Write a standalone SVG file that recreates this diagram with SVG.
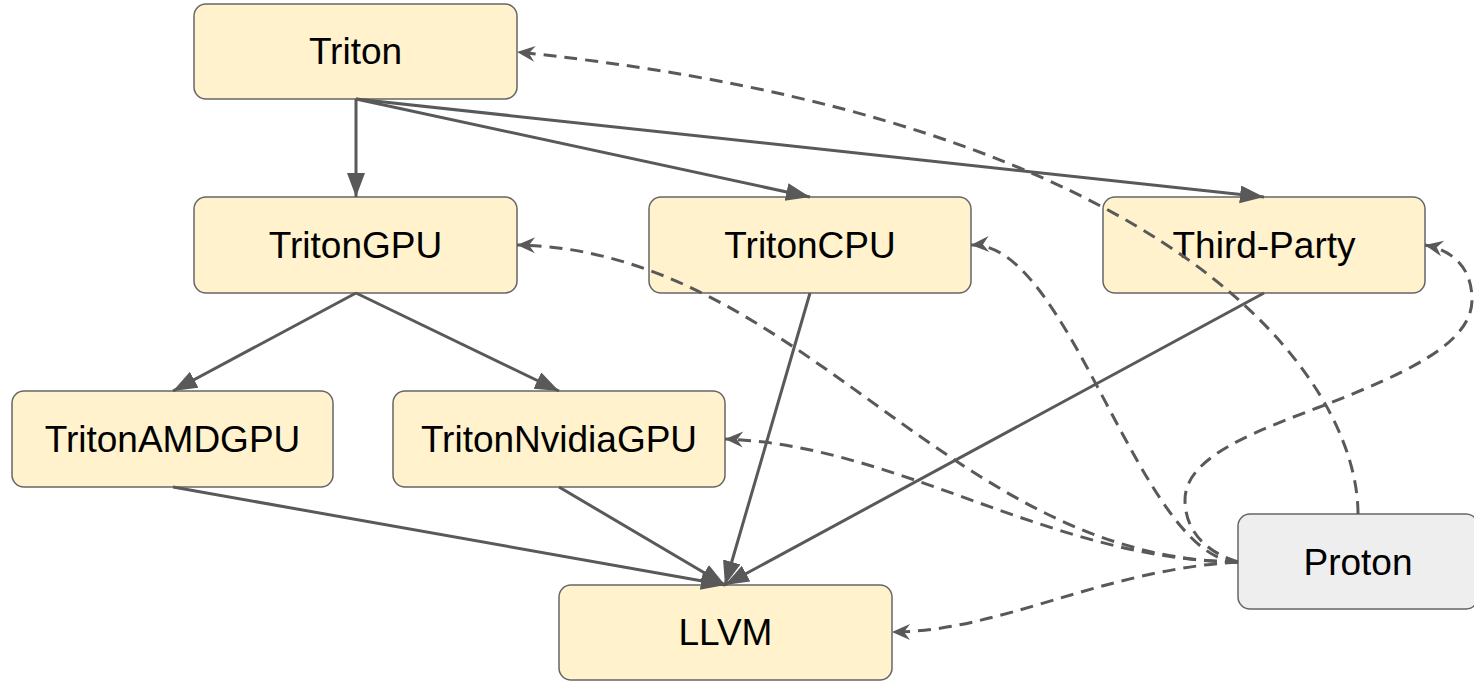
<svg xmlns="http://www.w3.org/2000/svg" width="1474" height="682" viewBox="0 0 1474 682">
<style>
.box{fill:#fff2cc;stroke:#666666;stroke-width:1.5}
.grey{fill:#eeeeee;stroke:#666666;stroke-width:1.5}
.lbl{font-family:"Liberation Sans",Arial,sans-serif;font-size:37px;fill:#000;text-anchor:middle}
.solid{fill:none;stroke:#595959;stroke-width:3;marker-end:url(#tri)}
.dash{fill:none;stroke:#595959;stroke-width:3;stroke-dasharray:13 8;marker-end:url(#open)}
</style>
<defs>
<marker id="tri" markerUnits="userSpaceOnUse" markerWidth="30" markerHeight="24" refX="24" refY="9" orient="auto">
<path d="M0,0 L24,9 L0,18 Z" fill="#595959"/>
</marker>
<marker id="open" markerUnits="userSpaceOnUse" markerWidth="24" markerHeight="20" refX="19" refY="9" orient="auto">
<path d="M19,9 L1,1 L7,9 L1,17 Z" fill="#595959"/>
</marker>
</defs>
<g id="triton"><rect class="box" x="194" y="4" width="323" height="95" rx="12"/><text class="lbl" x="355.5" y="64">Triton</text></g>
<g id="tritongpu"><rect class="box" x="194" y="197" width="323" height="96" rx="12"/><text class="lbl" x="355.5" y="258">TritonGPU</text></g>
<g id="tritoncpu"><rect class="box" x="649" y="197" width="322" height="96" rx="12"/><text class="lbl" x="810" y="258">TritonCPU</text></g>
<g id="thirdparty"><rect class="box" x="1103" y="197" width="322" height="96" rx="12"/><text class="lbl" x="1264" y="258">Third-Party</text></g>
<g id="tritonamdgpu"><rect class="box" x="12" y="391" width="321" height="96" rx="12"/><text class="lbl" x="172.5" y="452">TritonAMDGPU</text></g>
<g id="tritonnvidiagpu"><rect class="box" x="393" y="391" width="332" height="96" rx="12"/><text class="lbl" x="559" y="452">TritonNvidiaGPU</text></g>
<g id="llvm"><rect class="box" x="559" y="585" width="333" height="95" rx="12"/><text class="lbl" x="725.5" y="645">LLVM</text></g>
<g id="proton"><rect class="grey" x="1238" y="514" width="240" height="95" rx="12"/><text class="lbl" x="1358" y="575">Proton</text></g>
<g id="connectors">
<path class="solid" d="M356,99 L356,197"/>
<path class="solid" d="M356,99 L810,197"/>
<path class="solid" d="M356,99 L1264,197"/>
<path class="solid" d="M356,293 L173,391"/>
<path class="solid" d="M356,293 L559,391"/>
<path class="solid" d="M810,293 L725,585"/>
<path class="solid" d="M1264,293 L725,585"/>
<path class="solid" d="M173,487 L725,585"/>
<path class="solid" d="M559,487 L725,585"/>
<path class="dash" d="M1358,514 C1358,380 1180,120 517,52"/>
<path class="dash" d="M1238,562 C950,560 800,250 517,245"/>
<path class="dash" d="M1238,562 C1140,560 1070,240 971,245"/>
<path class="dash" d="M1238,562 C1050,560 900,445 725,439"/>
<path class="dash" d="M1238,562 C1100,570 1000,632 892,632"/>
<path class="dash" d="M1238,562 C1205,552 1185,530 1185,500 C1185,455 1260,430 1330,403 C1400,375 1472,345 1472,300 C1472,265 1450,250 1425,245"/>
</g>
</svg>
